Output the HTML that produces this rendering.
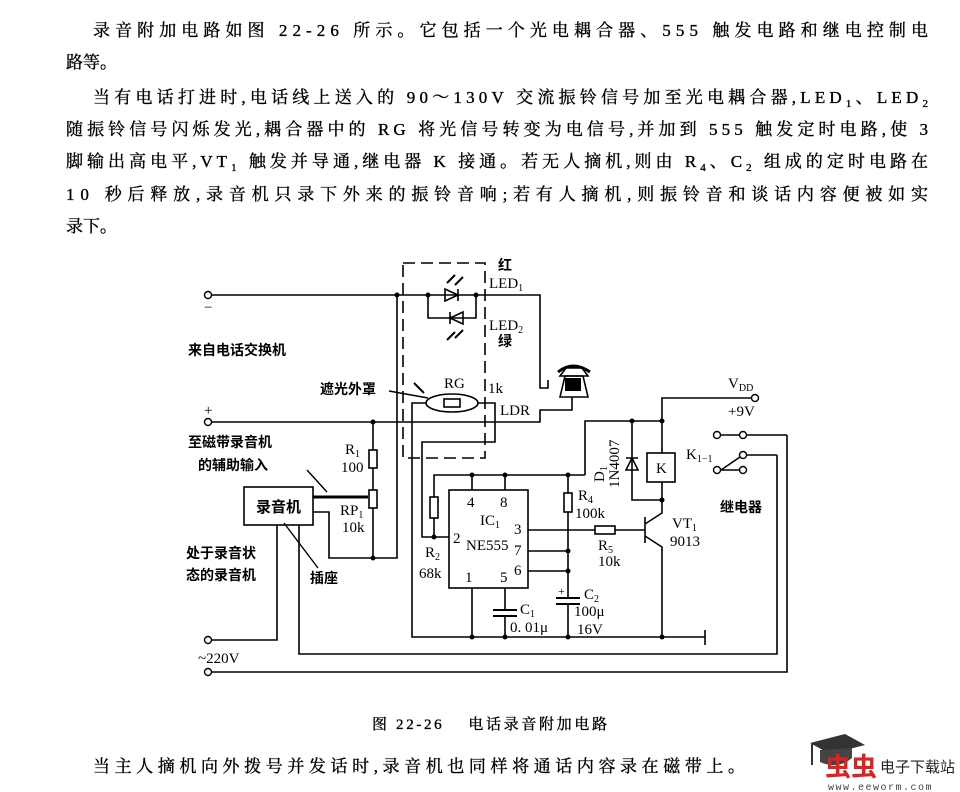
<!DOCTYPE html>
<html><head><meta charset="utf-8"><style>
html,body{margin:0;padding:0;background:#fff}
svg{display:block}
.t{font-family:"Liberation Serif","Noto Serif CJK SC",serif;font-size:17px;fill:#000;stroke:#000;stroke-width:0.35}
.c{font-family:"Liberation Sans","Noto Sans CJK SC",sans-serif;font-size:14px;font-weight:bold;fill:#000}
.l{font-family:"Liberation Serif",serif;font-size:15px;fill:#000}
.w{stroke:#000;stroke-width:1.6;fill:none}
.b{stroke:#000;stroke-width:2.4;fill:none}
</style></head><body>
<svg width="960" height="792" viewBox="0 0 960 792" xmlns="http://www.w3.org/2000/svg">
<g class="t">
<text x="93" y="36" textLength="835" lengthAdjust="spacing">录音附加电路如图 22-26 所示。它包括一个光电耦合器、555 触发电路和继电控制电</text>
<text x="66" y="68">路等。</text>
<text x="93" y="103" textLength="835" lengthAdjust="spacing">当有电话打进时,电话线上送入的 90～130V 交流振铃信号加至光电耦合器,LED<tspan font-size="11" dy="4">1</tspan><tspan dy="-4">、LED</tspan><tspan font-size="11" dy="4">2</tspan></text>
<text x="66" y="135" textLength="862" lengthAdjust="spacing">随振铃信号闪烁发光,耦合器中的 RG 将光信号转变为电信号,并加到 555 触发定时电路,使 3</text>
<text x="66" y="167" textLength="862" lengthAdjust="spacing">脚输出高电平,VT<tspan font-size="11" dy="4">1</tspan><tspan dy="-4"> 触发并导通,继电器 K 接通。若无人摘机,则由 R</tspan><tspan font-size="11" dy="4">4</tspan><tspan dy="-4">、C</tspan><tspan font-size="11" dy="4">2</tspan><tspan dy="-4"> 组成的定时电路在</tspan></text>
<text x="66" y="200" textLength="862" lengthAdjust="spacing">10 秒后释放,录音机只录下外来的振铃音响;若有人摘机,则振铃音和谈话内容便被如实</text>
<text x="66" y="232">录下。</text>
<text x="93" y="772" textLength="652" lengthAdjust="spacing">当主人摘机向外拨号并发话时,录音机也同样将通话内容录在磁带上。</text>
<text x="372" y="729" font-size="15" textLength="235" lengthAdjust="spacing">图 22-26　 电话录音附加电路</text>
</g>
<path d="M810 743 L845 734 L865 745 L830 754 Z" fill="#333"/>
<path d="M820 750 L820 762 Q838 770 852 758 L852 748" fill="#444"/>
<line x1="812" y1="744" x2="812" y2="765" stroke="#333" stroke-width="2"/>
<text x="825" y="776" font-family="Noto Sans CJK SC,sans-serif" font-size="26" font-weight="bold" fill="#d22">虫虫</text>
<text x="880" y="772" font-family="Noto Sans CJK SC,sans-serif" font-size="15" fill="#222">电子下载站</text>
<text x="828" y="790" font-family="Liberation Mono,monospace" font-size="10" fill="#444" letter-spacing="1.5">www.eeworm.com</text>

<rect x="403" y="263" width="82" height="195" fill="none" stroke="#000" stroke-width="1.6" stroke-dasharray="12,6"/>
<g class="w">
<path d="M211 295 H540 V388 H548 V380"/>
<path d="M428 295 V318 H476 V295"/>
<path d="M211 422 H540 V410 H572 V397"/>
<path d="M373 422 V558 H397 V295"/>
<path d="M313 512 H329 V558 H373"/>
<rect x="244" y="487" width="69" height="38"/>
<path d="M277 525 V640 H211"/>
<path d="M299 525 V654 H777 V455"/>
<path d="M211 672 H787 V435"/>
<path d="M426 403 H412 V637 H705"/>
<path d="M478 403 H495 V442 H422 V537 H449"/>
<path d="M705 630 V645"/>
<path d="M434 537 V475 H585"/>
<path d="M472 490 V475 M505 490 V475"/>
<path d="M585 475 V421 H662 V398 H751"/>
<rect x="449" y="490" width="79" height="98"/>
<path d="M528 551 H568 M528 571 H568 M568 475 V598 M568 604 V637"/>
<path d="M472 588 V637 M505 588 V610 M505 616 V637"/>
<path d="M528 530 H595 M615 530 H645"/>
<path d="M645 517 V543 M645 524 L662 513 V482 M645 536 L662 547 V637"/>
<path d="M632 421 V500 H662 M662 421 V453"/>
<rect x="647" y="453" width="28" height="29"/>
<path d="M721 435 H739 M747 435 H787 M721 470 L740 457 M747 455 H777 M721 470 H739"/>
</g>
<path d="M313 497 H368" stroke="#000" stroke-width="3"/>
<g fill="#fff" stroke="#000" stroke-width="1.6">
<rect x="369" y="450" width="8" height="18"/>
<rect x="369" y="490" width="8" height="18"/>
<rect x="430" y="497" width="8" height="21"/>
<rect x="564" y="493" width="8" height="19"/>
<rect x="595" y="526" width="20" height="8"/>
<ellipse cx="452" cy="403" rx="26" ry="9"/>
<rect x="444" y="399" width="16" height="8"/>
</g>
<path d="M493 610 H517 M493 616 H517 M556 598 H580 M556 604 H580" stroke="#000" stroke-width="2"/>
<path d="M445 289 L445 301 L458 295 Z M458 289 V301" fill="none" stroke="#000" stroke-width="1.6"/>
<path d="M463 312 L463 324 L450 318 Z M450 312 V324" fill="none" stroke="#000" stroke-width="1.6"/>
<path d="M447 283 L455 275 M455 285 L463 277 M447 340 L455 332 M455 338 L463 330 M414 383 L424 393" stroke="#000" stroke-width="2"/>
<path d="M626 470 L638 470 L632 458 Z M626 458 H638" fill="none" stroke="#000" stroke-width="1.6"/>
<path d="M307 470 L327 492 M284 523 L318 568 M389 391 L428 398" stroke="#000" stroke-width="1.4"/>
<g fill="#000">
<circle cx="397" cy="295" r="2.5"/><circle cx="428" cy="295" r="2.5"/><circle cx="476" cy="295" r="2.5"/>
<circle cx="373" cy="422" r="2.5"/><circle cx="373" cy="558" r="2.5"/><circle cx="434" cy="537" r="2.5"/>
<circle cx="472" cy="475" r="2.5"/><circle cx="505" cy="475" r="2.5"/><circle cx="568" cy="475" r="2.5"/>
<circle cx="568" cy="551" r="2.5"/><circle cx="568" cy="571" r="2.5"/><circle cx="632" cy="421" r="2.5"/>
<circle cx="662" cy="421" r="2.5"/><circle cx="662" cy="500" r="2.5"/><circle cx="472" cy="637" r="2.5"/>
<circle cx="505" cy="637" r="2.5"/><circle cx="568" cy="637" r="2.5"/><circle cx="662" cy="637" r="2.5"/>
</g>
<g fill="#fff" stroke="#000" stroke-width="1.4">
<circle cx="208" cy="295" r="3.5"/><circle cx="208" cy="422" r="3.5"/><circle cx="208" cy="640" r="3.5"/><circle cx="208" cy="672" r="3.5"/>
<circle cx="755" cy="398" r="3.5"/><circle cx="717" cy="435" r="3.5"/><circle cx="743" cy="435" r="3.5"/>
<circle cx="743" cy="455" r="3.5"/><circle cx="717" cy="470" r="3.5"/><circle cx="743" cy="470" r="3.5"/>
</g>
<path d="M560 376 L566 368 H582 L588 376 Z" fill="#fff" stroke="#000" stroke-width="1.6"/>
<path d="M558 372 Q573 360 590 372" fill="none" stroke="#000" stroke-width="3"/>
<rect x="565" y="378" width="16" height="13" fill="#000"/>
<path d="M560 397 L565 376 H583 L588 397 Z" fill="none" stroke="#000" stroke-width="1.6"/>
<g class="c">
<text x="188" y="355">来自电话交换机</text>
<text x="188" y="447">至磁带录音机</text>
<text x="198" y="470">的辅助输入</text>
<text x="186" y="558">处于录音状</text>
<text x="186" y="580">态的录音机</text>
<text x="310" y="583">插座</text>
<text x="320" y="394">遮光外罩</text>
<text x="256" y="512" font-size="15">录音机</text>
<text x="498" y="270">红</text>
<text x="498" y="346">绿</text>
<text x="720" y="512">继电器</text>
</g>
<g class="l">
<text x="204" y="312">−</text><text x="204" y="415">+</text>
<text x="198" y="663">~220V</text>
<text x="489" y="288">LED<tspan font-size="10" dy="3">1</tspan></text>
<text x="489" y="330">LED<tspan font-size="10" dy="3">2</tspan></text>
<text x="444" y="388">RG</text><text x="488" y="393">1k</text><text x="500" y="415">LDR</text>
<text x="345" y="454">R<tspan font-size="10" dy="3">1</tspan></text><text x="341" y="472">100</text>
<text x="340" y="515">RP<tspan font-size="10" dy="3">1</tspan></text><text x="342" y="532">10k</text>
<text x="425" y="557">R<tspan font-size="10" dy="3">2</tspan></text><text x="419" y="578">68k</text>
<text x="467" y="507">4</text><text x="500" y="507">8</text>
<text x="480" y="525">IC<tspan font-size="10" dy="3">1</tspan></text>
<text x="453" y="543">2</text><text x="466" y="550">NE555</text>
<text x="514" y="534">3</text><text x="514" y="555">7</text><text x="514" y="575">6</text>
<text x="465" y="582">1</text><text x="500" y="582">5</text>
<text x="520" y="614">C<tspan font-size="10" dy="3">1</tspan></text><text x="510" y="632">0. 01μ</text>
<text x="578" y="500">R<tspan font-size="10" dy="3">4</tspan></text><text x="575" y="518">100k</text>
<text x="598" y="550">R<tspan font-size="10" dy="3">5</tspan></text><text x="598" y="566">10k</text>
<text x="558" y="595" font-size="12">+</text>
<text x="584" y="599">C<tspan font-size="10" dy="3">2</tspan></text><text x="574" y="616">100μ</text><text x="577" y="634">16V</text>
<text transform="translate(604,482) rotate(-90)">D<tspan font-size="10" dy="3">1</tspan></text>
<text transform="translate(619,488) rotate(-90)">1N4007</text>
<text x="656" y="473">K</text>
<text x="728" y="388">V<tspan font-size="10" dy="3">DD</tspan></text><text x="728" y="416">+9V</text>
<text x="686" y="459">K<tspan font-size="10" dy="3">1−1</tspan></text>
<text x="672" y="528">VT<tspan font-size="10" dy="3">1</tspan></text><text x="670" y="546">9013</text>
</g>
</svg>
</body></html>
